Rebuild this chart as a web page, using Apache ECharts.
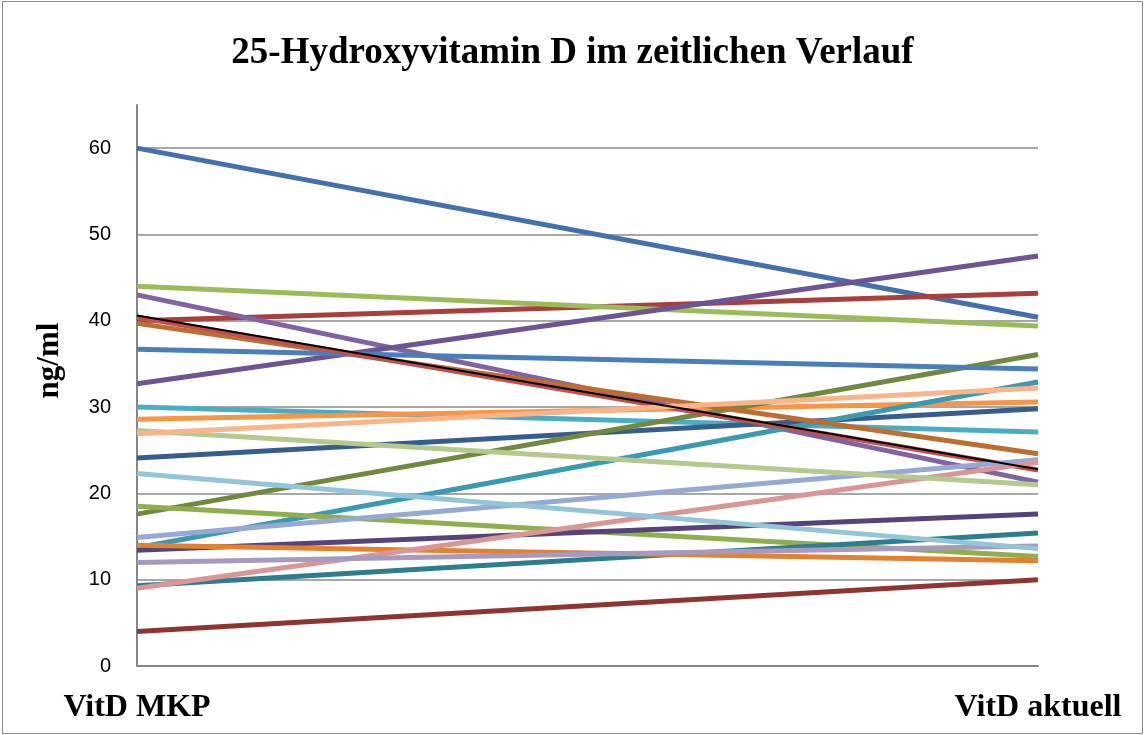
<!DOCTYPE html>
<html>
<head>
<meta charset="utf-8">
<title>25-Hydroxyvitamin D</title>
<script src="https://cdn.jsdelivr.net/npm/echarts@6/dist/echarts.min.js"></script>
<style>
	html, body { margin: 0; padding: 0; background: #fff; }
	#main { width: 1145px; height: 735px; }
	#frame { position: absolute; left: 2px; top: 1px; width: 1139px; height: 731px; border: 1px solid #8c8c8c; pointer-events: none; }
</style>
</head>
<body>
<div id="main"></div>
<div id="frame"></div>
<script>
// Zeitpunkte
var zeitpunkte = ['VitD MKP', 'VitD aktuell'];

// Werte je Patient (ng/ml)
var wertMKP     = [60.0, 40.0, 44.0, 43.0, 30.0, 28.6, 24.1, 4.0, 17.6, 32.7, 13.7, 39.7, 36.7, 40.4, 18.5, 13.4, 9.3, 14.0, 14.9, 9.0, 27.3, 12.0, 22.3, 26.9, 40.6];
var wertAktuell = [40.4, 43.2, 39.4, 21.3, 27.1, 30.6, 29.8, 10.0, 36.1, 47.5, 32.9, 24.6, 34.4, 22.7, 12.7, 17.6, 15.4, 12.2, 23.9, 23.6, 21.0, 13.9, 13.6, 32.2, 22.8];

var farben = ['#4470ad', '#a83f3c', '#9bbb59', '#8064a2', '#4bacc6', '#f79646', '#375d8e', '#8e3431',
	'#71893f', '#6e5493', '#3a9ab1', '#bc6e31', '#4a7ebb', '#c0504d', '#8fae4e', '#55437a',
	'#2e7d8e', '#e3812f', '#95a9d2', '#d99694', '#b4c98d', '#a899be', '#93c5d8', '#f9b48a', '#000000'];

var serien = [];
for (var i = 0; i < wertMKP.length; i++) {
	serien.push({
		name : 'P' + (i + 1),
		type : 'line',
		data : [wertMKP[i], wertAktuell[i]],
		symbol : 'none',
		smooth : false,
		lineStyle : {
			color : farben[i],
			width : (farben[i] == '#000000') ? 2 : 5
		},
		itemStyle : { color : farben[i] },
		z : 2 + i
	});
}

var chart = echarts.init(document.getElementById('main'));
chart.setOption({
	animation : false,
	title : {
		text : '25-Hydroxyvitamin D im zeitlichen Verlauf',
		left : 'center',
		top : 30,
		textStyle : {
			fontFamily : 'Liberation Serif',
			fontWeight : 'bold',
			fontSize : 37,
			color : '#000'
		}
	},
	grid : {
		left : 137,
		right : 107,
		top : 105,
		bottom : 69
	},
	xAxis : {
		type : 'category',
		boundaryGap : false,
		data : zeitpunkte,
		axisLine : { lineStyle : { color : '#868686', width : 2 } },
		axisTick : { show : false },
		axisLabel : {
			margin : 26,
			fontFamily : 'Liberation Serif',
			fontWeight : 'bold',
			fontSize : 32,
			color : '#000'
		}
	},
	yAxis : {
		type : 'value',
		min : 0,
		max : 65,
		interval : 10,
		name : 'ng/ml',
		nameLocation : 'middle',
		nameGap : 72,
		nameTextStyle : {
			fontFamily : 'Liberation Serif',
			fontWeight : 'bold',
			fontSize : 31,
			color : '#000',
			padding : [0, 0, 0, 50]
		},
		axisLine : { show : true, lineStyle : { color : '#868686', width : 2 } },
		axisTick : { show : false },
		axisLabel : {
			margin : 26,
			showMaxLabel : false,
			fontFamily : 'Liberation Sans',
			fontSize : 20,
			color : '#000'
		},
		splitLine : {
			show : true,
			showMaxLine : false,
			lineStyle : { color : '#8a8a8a', width : 1.5 }
		}
	},
	series : serien
});
</script>
</body>
</html>
